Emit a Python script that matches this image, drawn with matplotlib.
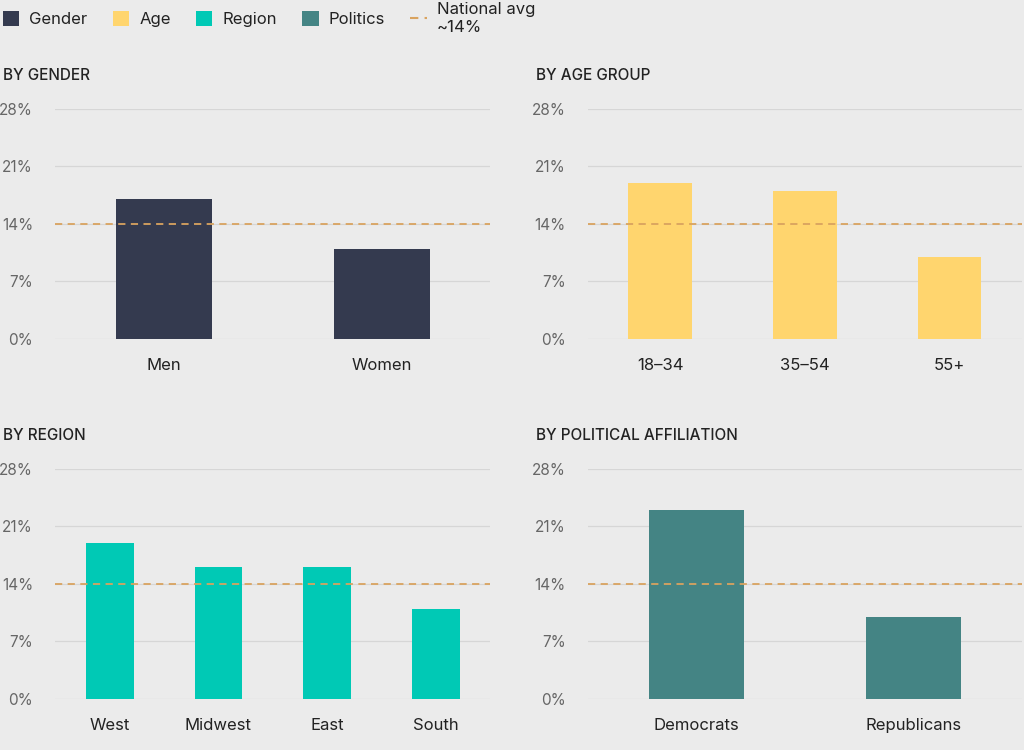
import matplotlib
matplotlib.use("Agg")
import matplotlib.pyplot as plt
from matplotlib.lines import Line2D
from matplotlib.patches import Patch

gender_cats = ["Men", "Women"]
gender_vals = [17, 11]
age_cats = ["18–34", "35–54", "55+"]
age_vals = [19, 18, 10]
region_cats = ["West", "Midwest", "East", "South"]
region_vals = [19, 16, 16, 11]
pol_cats = ["Democrats", "Republicans"]
pol_vals = [23, 10]
national_avg = 14
yticks = [0, 7, 14, 21, 28]

colors = {"Gender": "#343a4f", "Age": "#ffd56e", "Region": "#00c9b5", "Politics": "#448484"}
avg_color = "#d9a35f"
bg = "#ebebeb"
plt.rcParams['font.family'] = ['Inter', 'DejaVu Sans']

fig = plt.figure(figsize=(10.24, 7.5), dpi=100, facecolor=bg)
panels = [
    ("BY GENDER", gender_cats, gender_vals, colors["Gender"], [0.054, 0.548, 0.425, 0.307], 0.003),
    ("BY AGE GROUP", age_cats, age_vals, colors["Age"], [0.574, 0.548, 0.424, 0.307], 0.523),
    ("BY REGION", region_cats, region_vals, colors["Region"], [0.054, 0.068, 0.425, 0.307], 0.003),
    ("BY POLITICAL AFFILIATION", pol_cats, pol_vals, colors["Politics"], [0.574, 0.068, 0.424, 0.307], 0.523),
]
for title, cats, vals, col, pos, tx in panels:
    ax = fig.add_axes(pos)
    ax.set_facecolor(bg)
    x = list(range(len(cats)))
    ax.bar(x, vals, width=0.44, color=col, zorder=3)
    ax.set_xlim(-0.5, len(cats) - 0.5)
    ax.set_ylim(0, 28)
    ax.set_yticks(yticks)
    ax.set_yticklabels([f"{v}%" for v in yticks], color="#666666", fontsize=11)
    ax.set_xticks(x)
    ax.set_xticklabels(cats, fontsize=12, color="#222222")
    ax.tick_params(length=0, axis='y', pad=16)
    ax.tick_params(length=0, axis='x', pad=14)
    ax.grid(axis='y', color="#d6d6d6", linewidth=0.9, zorder=0)
    for s in ax.spines.values():
        s.set_visible(False)
    ax.axhline(national_avg, color=avg_color, linestyle=(0, (4, 3)), linewidth=1.3, zorder=4)
    fig.text(tx, pos[1] + pos[3] + 0.035, "\u2009".join(title) if False else title, fontsize=11,
             color="#222222", ha='left', va='bottom', fontweight='medium')

handles = [Patch(facecolor=colors[k], edgecolor='none', label=k) for k in colors]
handles.append(Line2D([0], [0], color=avg_color, linestyle=(0, (4, 3)), linewidth=1.5,
                      label="National avg\n~14%"))
fig.legend(handles=handles, loc='upper left', bbox_to_anchor=(-0.012, 1.017), ncol=5,
           frameon=False, fontsize=12, handlelength=1.0, handleheight=1.0,
           columnspacing=1.5, handletextpad=0.6, labelcolor="#222222")
fig.savefig("out.png", dpi=100, facecolor=bg)
